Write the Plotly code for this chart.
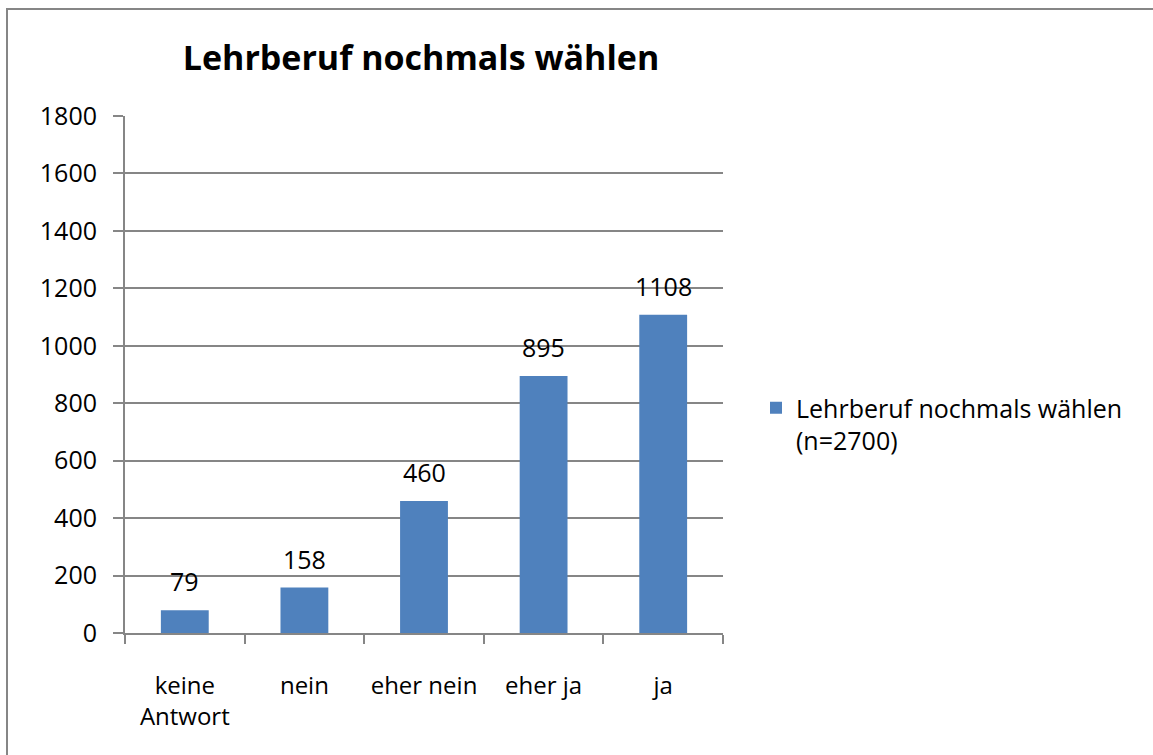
import plotly.graph_objects as go

categories = ["keine<br>Antwort", "nein", "eher nein", "eher ja", "ja"]
values = [79, 158, 460, 895, 1108]
series_name = "Lehrberuf nochmals wählen<br>(n=2700)"
title_text = "Lehrberuf nochmals wählen"
y_ticks = [0, 200, 400, 600, 800, 1000, 1200, 1400, 1600, 1800]

W, H = 1153, 755
L, R, T, B = 125, 723, 116, 633
pw, ph = R - L, B - T

FONT = "Open Sans"
GRAY = "#868686"

fig = go.Figure()
fig.add_trace(go.Bar(
    x=categories, y=values, name=series_name,
    marker=dict(color="#4F81BD", line=dict(width=0)),
    showlegend=True,
))

for c, v in zip(categories, values):
    fig.add_annotation(x=c, y=v, text=str(v), showarrow=False,
                       yanchor="bottom", yshift=10,
                       font=dict(family=FONT, size=25, color="black"))

def px_x(p):
    return (p - L) / pw

def px_y(p):
    return (B - p) / ph

# chart border (left and top edges visible in the frame)
fig.add_shape(type="line", xref="paper", yref="paper",
              x0=px_x(7), x1=px_x(7), y0=px_y(9), y1=px_y(800),
              line=dict(color=GRAY, width=2))
fig.add_shape(type="line", xref="paper", yref="paper",
              x0=px_x(6), x1=px_x(1200), y0=px_y(9), y1=px_y(9),
              line=dict(color=GRAY, width=2))

fig.update_layout(
    width=W, height=H,
    margin=dict(l=L, r=W - R, t=T, b=H - B, pad=0),
    paper_bgcolor="white", plot_bgcolor="white",
    font=dict(family=FONT, size=24, color="black"),
    title=dict(text="<b>" + title_text + "</b>", x=421 / W, xanchor="center",
               xref="container", y=1 - 58 / H, yanchor="middle", yref="container",
               font=dict(family=FONT, size=34, color="black")),
    bargap=0.6,
    showlegend=True,
    legend=dict(x=px_x(756), y=px_y(385), xanchor="left", yanchor="top",
                font=dict(family=FONT, size=25, color="black"), valign="top",
                itemwidth=30, bgcolor="rgba(0,0,0,0)", tracegroupgap=0),
    xaxis=dict(
        showgrid=False, showline=True, linecolor=GRAY, linewidth=2,
        ticks="outside", tickson="boundaries", ticklen=9, tickwidth=2, tickcolor=GRAY,
        tickfont=dict(family=FONT, size=24), ticklabelstandoff=30,
        fixedrange=True,
    ),
    yaxis=dict(
        range=[0, 1800], tickvals=y_ticks, showgrid=True, gridcolor=GRAY, gridwidth=1.5,
        showline=True, linecolor=GRAY, linewidth=2,
        ticks="outside", ticklen=10, tickwidth=1.5, tickcolor=GRAY,
        tickfont=dict(family=FONT, size=25), ticklabelstandoff=11,
        zeroline=False,
    ),
)

fig.write_html("out.html", config={"displayModeBar": False},
               post_script="document.body.style.margin='0';document.body.style.overflow='hidden';")
